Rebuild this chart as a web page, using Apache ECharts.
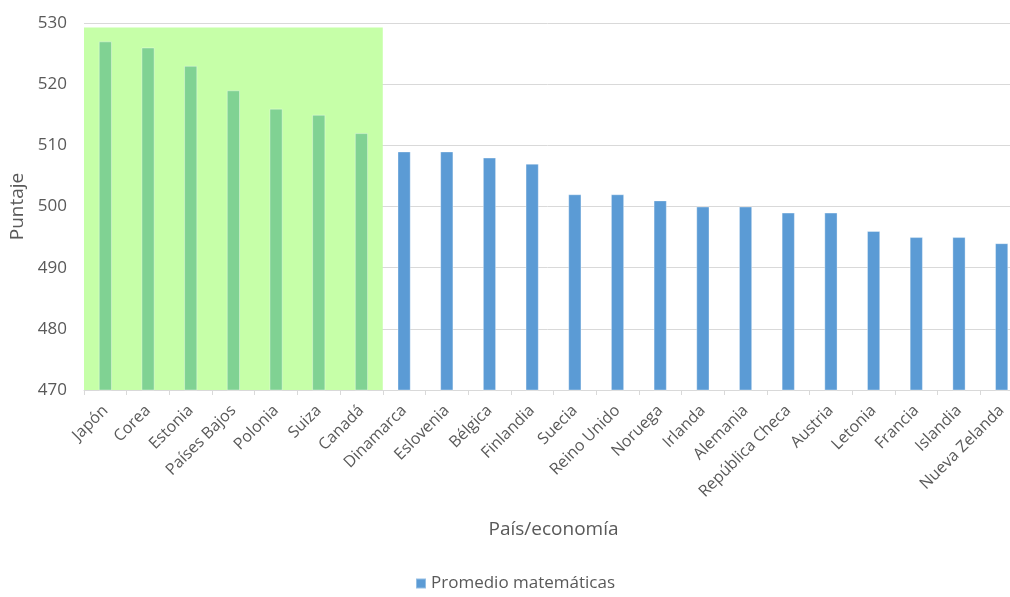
<!DOCTYPE html>
<html>
<head>
<meta charset="utf-8">
<script src="https://cdn.jsdelivr.net/npm/echarts@6/dist/echarts.min.js"></script>
<style>
  html, body { margin: 0; padding: 0; background: #fff; }
  #chart { width: 1010px; height: 597px; }
</style>
</head>
<body>
<div id="chart"></div>
<script>
var paises = ['Japón', 'Corea', 'Estonia', 'Países Bajos', 'Polonia', 'Suiza', 'Canadá',
  'Dinamarca', 'Eslovenia', 'Bélgica', 'Finlandia', 'Suecia', 'Reino Unido', 'Noruega',
  'Irlanda', 'Alemania', 'República Checa', 'Austria', 'Letonia', 'Francia', 'Islandia',
  'Nueva Zelanda'];
var promedio = [527, 526, 523, 519, 516, 515, 512, 509, 509, 508, 507, 502, 502, 501,
  500, 500, 499, 499, 496, 495, 495, 494];
// cuántos países quedan dentro del recuadro verde y hasta qué altura llega
var destacados = 7;
var topeRecuadro = 529.25;

var font = 'Open Sans';
var gris = '#595959';
var azul = '#5b9bd5';
var verdeFondo = '#c6ffa8';

var myChart = echarts.init(document.getElementById('chart'));
var option = {
  animation: false,
  textStyle: { fontFamily: font },
  // el gráfico original está recortado por la derecha
  grid: { left: 84, width: 939, top: 23, bottom: 207, containLabel: false, outerBoundsMode: 'none' },
  legend: {
    bottom: 0,
    left: 410,
    data: [{ name: 'Promedio matemáticas', itemStyle: { color: azul } }],
    icon: 'rect',
    itemWidth: 10,
    itemHeight: 10,
    itemGap: 6,
    textStyle: { color: gris, fontSize: 17, fontFamily: font }
  },
  xAxis: [
    {
      type: 'category',
      data: paises,
      name: 'País/economía',
      nameLocation: 'middle',
      nameGap: 130,
      nameTextStyle: { color: gris, fontSize: 19, fontFamily: font },
      axisLine: { lineStyle: { color: '#d9d9d9', width: 1 } },
      axisTick: { show: true, length: 5, lineStyle: { color: '#d9d9d9' } },
      axisLabel: { rotate: 45, color: gris, fontSize: 16, margin: 18, interval: 0 }
    },
    {
      // eje auxiliar en "índice de categoría" para ubicar el recuadro verde
      type: 'value',
      min: -0.5,
      max: paises.length - 0.5,
      show: false
    }
  ],
  yAxis: {
    type: 'value',
    min: 470,
    max: 530,
    interval: 10,
    name: 'Puntaje',
    nameLocation: 'middle',
    nameGap: 55,
    nameTextStyle: { color: gris, fontSize: 19, fontFamily: font },
    axisLine: { show: false },
    axisTick: { show: false },
    axisLabel: { color: gris, fontSize: 17, margin: 17 },
    splitLine: { lineStyle: { color: '#d9d9d9', width: 1 } }
  },
  series: [
    {
      name: 'recuadro',
      type: 'line',
      xAxisIndex: 1,
      data: [],
      z: 1,
      silent: true,
      markArea: {
        silent: true,
        itemStyle: { color: verdeFondo },
        data: [[
          { xAxis: -0.5, yAxis: 470 },
          { xAxis: destacados - 0.5, yAxis: topeRecuadro }
        ]]
      }
    },
    {
      name: 'Promedio matemáticas',
      type: 'bar',
      xAxisIndex: 0,
      data: promedio,
      barWidth: '31%',
      z: 2,
      itemStyle: {
        color: function (p) { return p.dataIndex < destacados ? '#80d293' : azul; },
        borderColor: 'rgba(255,255,255,0.35)',
        borderWidth: 1
      }
    }
  ]
};
myChart.setOption(option);
</script>
</body>
</html>
